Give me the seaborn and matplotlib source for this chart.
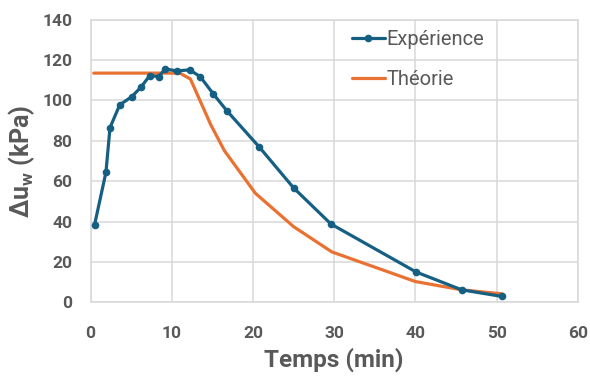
import matplotlib
matplotlib.use("Agg")
import matplotlib.pyplot as plt
import seaborn as sns
import pandas as pd

# Mesures expérimentales
t_exp = [0.5, 1.9, 2.4, 3.6, 5.1, 6.2, 7.3, 8.4, 9.2, 10.6, 12.2, 13.5,
         15.1, 16.8, 20.8, 25.0, 29.6, 40.1, 45.7, 50.7]
du_exp = [38.4, 64.4, 86.5, 97.8, 101.9, 106.5, 112.3, 111.8, 115.6, 114.6,
          115.1, 111.8, 103.3, 94.8, 76.8, 56.7, 38.8, 15.0, 6.2, 2.9]

# Courbe théorique
t_th = [0.4, 11.0, 12.3, 14.8, 16.5, 20.3, 25.0, 29.7, 40.0, 45.7, 50.7]
du_th = [113.5, 113.5, 110.6, 88.0, 75.0, 54.0, 37.5, 25.0, 10.3, 6.2, 4.2]

x_ticks = [0, 10, 20, 30, 40, 50, 60]
y_ticks = [0, 20, 40, 60, 80, 100, 120, 140]

sns.set_theme(style="whitegrid")
plt.rcParams["font.family"] = ["Roboto", "DejaVu Sans"]
plt.rcParams["mathtext.fontset"] = "custom"
plt.rcParams["mathtext.rm"] = "Roboto:bold"
plt.rcParams["mathtext.it"] = "Roboto:bold"
plt.rcParams["mathtext.bf"] = "Roboto:bold"

BLUE = "#156082"
ORANGE = "#E97132"
GRID = "#D9D9D9"
TEXT = "#595959"

df_exp = pd.DataFrame({"t": t_exp, "du": du_exp})
df_th = pd.DataFrame({"t": t_th, "du": du_th})

fig = plt.figure(figsize=(5.9, 3.77), dpi=100)
ax = fig.add_axes([0.1534, 0.198, 0.826, 0.75])

sns.lineplot(data=df_exp, x="t", y="du", ax=ax, color=BLUE, lw=2.3,
             marker="o", markersize=5.5, markeredgewidth=0, label="Expérience",
             zorder=3)
sns.lineplot(data=df_th, x="t", y="du", ax=ax, color=ORANGE, lw=2.3,
             label="Théorie", zorder=2)

ax.set_xlim(0, 60)
ax.set_ylim(0, 140)
ax.set_xticks(x_ticks)
ax.set_yticks(y_ticks)
ax.grid(True, color=GRID, lw=1.1)
for s in ax.spines.values():
    s.set_visible(True)
    s.set_color(GRID)
    s.set_linewidth(1.1)

ax.tick_params(axis="both", length=0, labelsize=12.5, labelcolor=TEXT)
ax.tick_params(axis="x", pad=17)
ax.tick_params(axis="y", pad=13)
for lab in ax.get_xticklabels() + ax.get_yticklabels():
    lab.set_fontweight("bold")

ax.set_xlabel("Temps (min)", fontsize=17.5, fontweight="bold", color=TEXT,
              labelpad=5)
ax.set_ylabel(r"Δu$_{\mathrm{w}}$ (kPa)", fontsize=18, fontweight="bold",
              color=TEXT, labelpad=4)

leg = ax.legend(loc="upper left", bbox_to_anchor=(0.5, 1.027), frameon=False,
                fontsize=14.5, handlelength=1.6, handletextpad=0.1,
                labelspacing=1.05, labelcolor=TEXT)

fig.savefig("out.png", dpi=100)
